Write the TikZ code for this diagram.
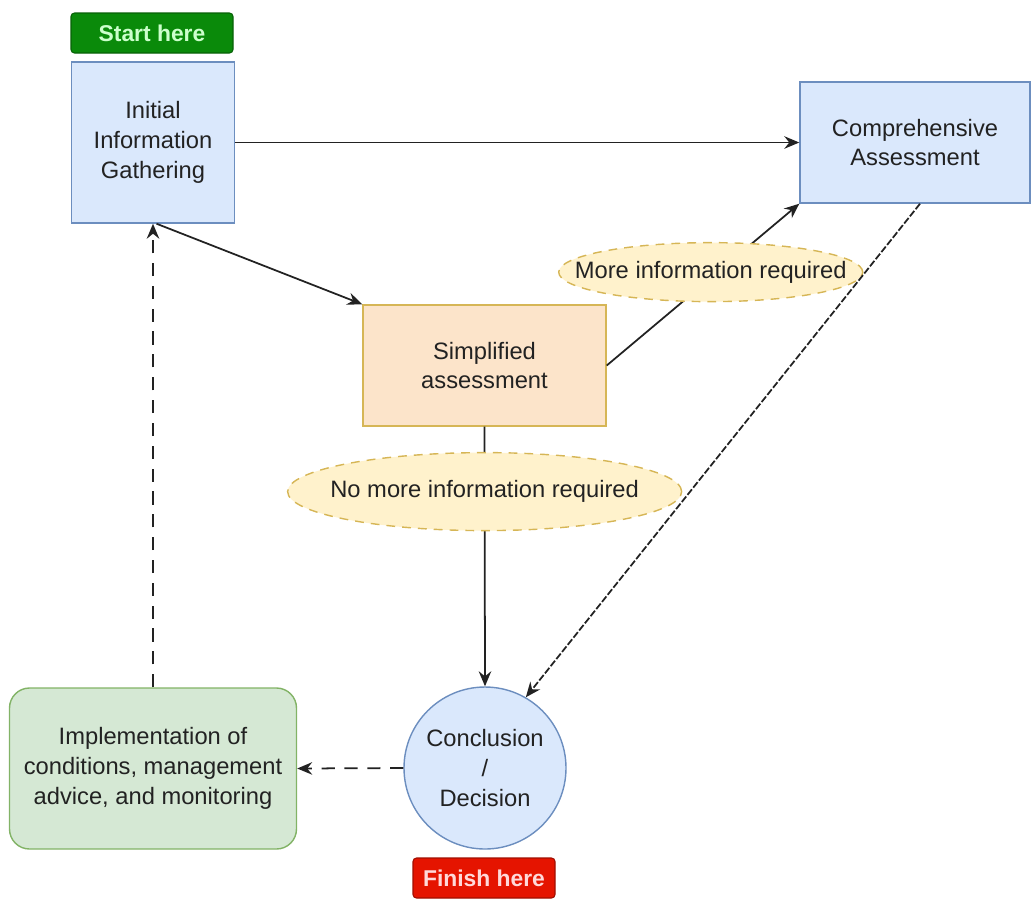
\documentclass[tikz,border=0pt]{standalone}
\usepackage{fontspec}
\setmainfont{Liberation Sans}
\usetikzlibrary{arrows.meta,shapes.geometric}

\definecolor{boxblue}{HTML}{DAE8FC}
\definecolor{lineblue}{HTML}{6C8EBF}
\definecolor{boxorange}{HTML}{FCE4CA}
\definecolor{lineyellow}{HTML}{D6B656}
\definecolor{boxyellow}{HTML}{FFF2CC}
\definecolor{boxgreen}{HTML}{D5E8D4}
\definecolor{linegreen}{HTML}{82B366}
\definecolor{tagreen}{HTML}{0A8A0A}
\definecolor{tagred}{HTML}{E51400}
\definecolor{ink}{HTML}{222222}

\tikzset{
  txt/.style={font=\fontsize{13.5}{17}\selectfont,text=ink,align=center},
  bluebox/.style={txt,rectangle,draw=lineblue,fill=boxblue,line width=0.8pt},
  orangebox/.style={txt,rectangle,draw=lineyellow,fill=boxorange,line width=0.8pt},
  greenbox/.style={txt,rectangle,rounded corners=0.4cm,draw=linegreen,fill=boxgreen,line width=0.8pt},
  elabel/.style={txt,ellipse,draw=lineyellow,fill=boxyellow,dash pattern=on 5pt off 4pt,line width=0.8pt,inner xsep=-1.5cm,inner ysep=-0.6cm},
  tag/.style={font=\bfseries\fontsize{13}{15}\selectfont,rectangle,rounded corners=2pt,inner sep=0pt,line width=0.6pt},
  arr/.style={-{Stealth[length=3mm,width=2.5mm,inset=1mm]},line width=1pt,ink},
  dasharr/.style={arr,dash pattern=on 7.5pt off 5.5pt},
}

\begin{document}
\begin{tikzpicture}
\useasboundingbox (0,0) rectangle (20.64,-18);

\node[tag,fill=tagreen,draw=tagreen!70!black,text=green!20,minimum width=3.24cm,minimum height=0.8cm] (start) at (3.04,-0.66) {Start here};
\node[bluebox,minimum width=3.26cm,minimum height=3.22cm] (init) at (3.06,-2.85) {Initial\\Information\\Gathering};
\node[bluebox,minimum width=4.6cm,minimum height=2.42cm] (comp) at (18.3,-2.85) {Comprehensive\\Assessment};
\node[orangebox,minimum width=4.86cm,minimum height=2.42cm] (simp) at (9.69,-7.31) {Simplified\\assessment};
\node[bluebox,circle,minimum size=3.24cm,inner sep=0pt] (concl) at (9.7,-15.36) {Conclusion\\/\\Decision};
\node[tag,fill=tagred,draw=tagred!70!black,text=red!15,minimum width=2.84cm,minimum height=0.8cm] (finish) at (9.68,-17.56) {Finish here};
\node[greenbox,minimum width=5.74cm,minimum height=3.22cm] (impl) at (3.06,-15.37) {Implementation of\\conditions, management\\advice, and monitoring};

\draw[arr] (init.east)--(comp.west);
\draw[arr] ([xshift=2pt]init.south)--(simp.north west);
\draw[arr] (simp.east)--node[elabel,pos=0.54,yshift=1.2mm,minimum width=6.08cm,minimum height=1.18cm] (more) {More information required} (comp.south west);
\draw[arr] (simp.south)--node[elabel,pos=0.25,minimum width=7.88cm,minimum height=1.56cm] (nomore) {No more information required} (concl.north);
\draw[arr,dash pattern=on 4pt off 1.2pt] ([xshift=0.1cm]comp.south)--(concl.60);
\draw[dasharr] (concl.west)--(impl.east);
\draw[dasharr] (impl.north)--(init.south);
\end{tikzpicture}
\end{document}
